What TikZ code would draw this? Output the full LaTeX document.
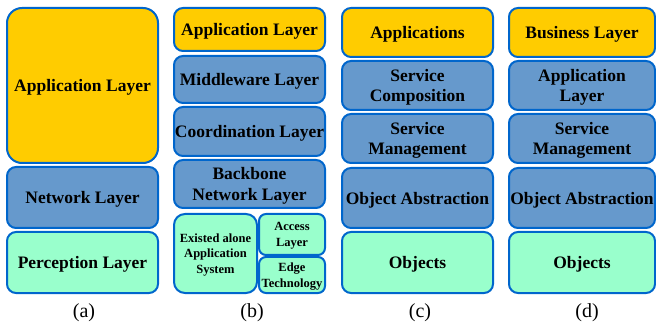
\documentclass[tikz,border=0pt]{standalone}
\usepackage{fontspec}
\setmainfont{Liberation Serif}
\definecolor{yel}{HTML}{FFCC00}
\definecolor{blu}{HTML}{6699CC}
\definecolor{mnt}{HTML}{99FFCC}
\definecolor{edg}{HTML}{0066CC}
\begin{document}
\begin{tikzpicture}[x=1pt,y=-1pt,
  box/.style={draw=edg, line width=2pt, rounded corners=9pt, inner sep=0pt, align=center,
    text depth=0pt, font=\fontsize{17.5}{20.5}\selectfont\bfseries},
  smallbox/.style={box, font=\fontsize{12.5}{15.5}\selectfont\bfseries},
  yb/.style={box, fill=yel}, bb/.style={box, fill=blu}, mb/.style={box, fill=mnt},
  lab/.style={font=\fontsize{20}{22}\selectfont, inner sep=0pt}]
\useasboundingbox (0,0) rectangle (656,323);
\clip (0,0) rectangle (656,323);
% (a)
\node[yb, rounded corners=15pt, minimum width=151pt, minimum height=155pt] (aApp) at (82.5,85.5) {Application Layer};
\node[bb, minimum width=151pt, minimum height=61pt] (aNet) at (82.5,197.5) {Network Layer};
\node[mb, minimum width=151pt, minimum height=61pt] (aPer) at (82.5,262.5) {Perception Layer};
\node[lab] (la) at (84,313) {(a)};
% (b)
\node[yb, minimum width=151pt, minimum height=43pt] (bApp) at (249.5,29.5) {Application Layer};
\node[bb, minimum width=151pt, minimum height=47pt] (bMid) at (249.5,79.5) {Middleware Layer};
\node[bb, minimum width=151pt, minimum height=49pt] (bCoo) at (249.5,131.5) {Coordination Layer};
\node[bb, minimum width=151pt, minimum height=48pt] (bBack) at (249.5,184) {Backbone\\Network Layer};
\node[mb, smallbox, fill=mnt, rounded corners=11pt, minimum width=83pt, minimum height=79pt] (bEx) at (215.5,253.5) {Existed alone\\Application\\System};
\node[mb, smallbox, fill=mnt, rounded corners=7pt, minimum width=66pt, minimum height=41pt] (bAcc) at (292,234.5) {Access\\Layer};
\node[mb, smallbox, fill=mnt, rounded corners=7pt, minimum width=66pt, minimum height=36pt] (bEdge) at (292,275) {Edge\\Technology};
\node[lab] (lb) at (252,313) {(b)};
% (c)
\node[yb, minimum width=151pt, minimum height=49pt] (cApp) at (417.5,32.5) {Applications};
\node[bb, minimum width=151pt, minimum height=49pt] (cSC) at (417.5,85.5) {Service\\Composition};
\node[bb, minimum width=151pt, minimum height=49pt] (cSM) at (417.5,138.5) {Service\\Management};
\node[bb, minimum width=151pt, minimum height=60pt] (cOA) at (417.5,198) {Object Abstraction};
\node[mb, minimum width=151pt, minimum height=61pt] (cObj) at (417.5,262.5) {Objects};
\node[lab] (lc) at (420,313) {(c)};
% (d)
\node[yb, minimum width=146pt, minimum height=49pt] (dBus) at (582,32.5) {Business Layer};
\node[bb, minimum width=146pt, minimum height=49pt] (dApp) at (582,85.5) {Application\\Layer};
\node[bb, minimum width=146pt, minimum height=49pt] (dSM) at (582,138.5) {Service\\Management};
\node[bb, minimum width=146pt, minimum height=60pt] (dOA) at (582,198) {Object Abstraction};
\node[mb, minimum width=146pt, minimum height=61pt] (dObj) at (582,262.5) {Objects};
\node[lab] (ld) at (587,313) {(d)};
\end{tikzpicture}
\end{document}
